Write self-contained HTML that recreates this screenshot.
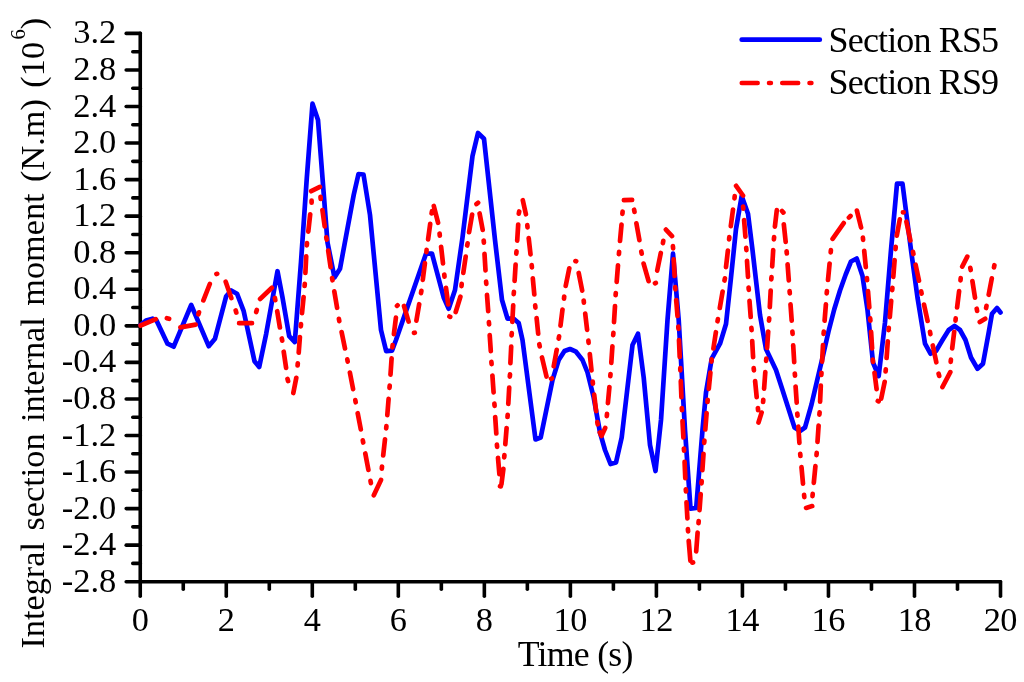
<!DOCTYPE html>
<html><head><meta charset="utf-8"><title>Integral section internal moment</title>
<style>
html,body{margin:0;padding:0;background:#fff;}
svg{display:block;}
text{font-family:"Liberation Serif",serif;fill:#000;}
</style></head><body>
<svg width="1024" height="682" viewBox="0 0 1024 682">
<rect width="1024" height="682" fill="#fff"/>

<g stroke="#000" stroke-width="3.6" stroke-linecap="round" fill="none">
<line x1="140.25" y1="33.4" x2="140.25" y2="581.7"/>
<line x1="140.25" y1="581.7" x2="1000.5" y2="581.7"/>
<line x1="126.2" y1="33.40" x2="140.25" y2="33.40"/>
<line x1="132.8" y1="51.68" x2="140.25" y2="51.68"/>
<line x1="126.2" y1="69.95" x2="140.25" y2="69.95"/>
<line x1="132.8" y1="88.23" x2="140.25" y2="88.23"/>
<line x1="126.2" y1="106.51" x2="140.25" y2="106.51"/>
<line x1="132.8" y1="124.78" x2="140.25" y2="124.78"/>
<line x1="126.2" y1="143.06" x2="140.25" y2="143.06"/>
<line x1="132.8" y1="161.34" x2="140.25" y2="161.34"/>
<line x1="126.2" y1="179.61" x2="140.25" y2="179.61"/>
<line x1="132.8" y1="197.89" x2="140.25" y2="197.89"/>
<line x1="126.2" y1="216.17" x2="140.25" y2="216.17"/>
<line x1="132.8" y1="234.44" x2="140.25" y2="234.44"/>
<line x1="126.2" y1="252.72" x2="140.25" y2="252.72"/>
<line x1="132.8" y1="271.00" x2="140.25" y2="271.00"/>
<line x1="126.2" y1="289.27" x2="140.25" y2="289.27"/>
<line x1="132.8" y1="307.55" x2="140.25" y2="307.55"/>
<line x1="126.2" y1="325.83" x2="140.25" y2="325.83"/>
<line x1="132.8" y1="344.10" x2="140.25" y2="344.10"/>
<line x1="126.2" y1="362.38" x2="140.25" y2="362.38"/>
<line x1="132.8" y1="380.66" x2="140.25" y2="380.66"/>
<line x1="126.2" y1="398.93" x2="140.25" y2="398.93"/>
<line x1="132.8" y1="417.21" x2="140.25" y2="417.21"/>
<line x1="126.2" y1="435.49" x2="140.25" y2="435.49"/>
<line x1="132.8" y1="453.76" x2="140.25" y2="453.76"/>
<line x1="126.2" y1="472.04" x2="140.25" y2="472.04"/>
<line x1="132.8" y1="490.32" x2="140.25" y2="490.32"/>
<line x1="126.2" y1="508.59" x2="140.25" y2="508.59"/>
<line x1="132.8" y1="526.87" x2="140.25" y2="526.87"/>
<line x1="126.2" y1="545.15" x2="140.25" y2="545.15"/>
<line x1="132.8" y1="563.42" x2="140.25" y2="563.42"/>
<line x1="126.2" y1="581.70" x2="140.25" y2="581.70"/>
<line x1="140.25" y1="581.7" x2="140.25" y2="596.2"/>
<line x1="183.26" y1="581.7" x2="183.26" y2="589.2"/>
<line x1="226.28" y1="581.7" x2="226.28" y2="596.2"/>
<line x1="269.29" y1="581.7" x2="269.29" y2="589.2"/>
<line x1="312.30" y1="581.7" x2="312.30" y2="596.2"/>
<line x1="355.31" y1="581.7" x2="355.31" y2="589.2"/>
<line x1="398.32" y1="581.7" x2="398.32" y2="596.2"/>
<line x1="441.34" y1="581.7" x2="441.34" y2="589.2"/>
<line x1="484.35" y1="581.7" x2="484.35" y2="596.2"/>
<line x1="527.36" y1="581.7" x2="527.36" y2="589.2"/>
<line x1="570.38" y1="581.7" x2="570.38" y2="596.2"/>
<line x1="613.39" y1="581.7" x2="613.39" y2="589.2"/>
<line x1="656.40" y1="581.7" x2="656.40" y2="596.2"/>
<line x1="699.41" y1="581.7" x2="699.41" y2="589.2"/>
<line x1="742.42" y1="581.7" x2="742.42" y2="596.2"/>
<line x1="785.44" y1="581.7" x2="785.44" y2="589.2"/>
<line x1="828.45" y1="581.7" x2="828.45" y2="596.2"/>
<line x1="871.46" y1="581.7" x2="871.46" y2="589.2"/>
<line x1="914.48" y1="581.7" x2="914.48" y2="596.2"/>
<line x1="957.49" y1="581.7" x2="957.49" y2="589.2"/>
<line x1="1000.50" y1="581.7" x2="1000.50" y2="596.2"/>
</g>
<g font-size="34.5" text-anchor="end">
<text x="116.3" y="43.4">3.2</text>
<text x="116.3" y="80.0">2.8</text>
<text x="116.3" y="116.5">2.4</text>
<text x="116.3" y="153.1">2.0</text>
<text x="116.3" y="189.6">1.6</text>
<text x="116.3" y="226.2">1.2</text>
<text x="116.3" y="262.7">0.8</text>
<text x="116.3" y="299.3">0.4</text>
<text x="116.3" y="335.8">0.0</text>
<text x="116.3" y="372.4">-0.4</text>
<text x="116.3" y="408.9">-0.8</text>
<text x="116.3" y="445.5">-1.2</text>
<text x="116.3" y="482.0">-1.6</text>
<text x="116.3" y="518.6">-2.0</text>
<text x="116.3" y="555.1">-2.4</text>
<text x="116.3" y="591.7">-2.8</text>
</g>
<g font-size="34.3" letter-spacing="-0.5" text-anchor="middle">
<text x="140.1" y="631.2">0</text>
<text x="226.1" y="631.2">2</text>
<text x="312.1" y="631.2">4</text>
<text x="398.1" y="631.2">6</text>
<text x="484.2" y="631.2">8</text>
<text x="570.2" y="631.2">10</text>
<text x="656.2" y="631.2">12</text>
<text x="742.2" y="631.2">14</text>
<text x="828.2" y="631.2">16</text>
<text x="914.3" y="631.2">18</text>
<text x="1000.3" y="631.2">20</text>
<text x="575.2" y="666" font-size="35.8" letter-spacing="-0.75">Time (s)</text>
</g>
<text font-size="34.3" word-spacing="2.85" text-anchor="start" transform="translate(44.4,648.6) rotate(-90)">Integral section internal moment (N.m) (10<tspan font-size="20.5" dx="2.5" dy="-19">6</tspan><tspan dy="19">)</tspan></text>
<polyline points="140.5,325.0 146.0,320.5 152.5,318.7 156.5,320.5 167.5,343.7 173.7,346.7 191.2,305.0 208.7,346.2 215.0,338.7 226.2,296.2 231.2,290.5 237.0,293.7 243.7,311.2 254.5,361.2 259.2,367.0 266.2,333.7 277.5,271.2 282.5,297.5 289.2,336.2 294.8,342.0 301.0,262.0 306.8,178.0 312.5,103.7 318.0,120.0 327.5,242.5 334.5,277.5 340.0,268.7 353.7,195.0 358.5,174.0 363.5,174.5 370.0,215.0 381.0,330.0 386.2,351.2 392.0,350.7 396.0,340.0 426.0,253.7 432.0,253.7 443.7,297.5 448.7,308.7 455.0,290.0 462.5,237.5 472.5,156.0 478.0,133.0 484.0,138.7 495.0,240.0 502.0,300.0 507.5,318.7 513.7,318.7 518.7,323.0 522.5,340.0 535.5,439.5 540.7,437.5 552.5,380.0 558.7,360.0 564.5,351.0 570.0,349.0 576.0,351.7 582.5,360.0 587.5,372.5 593.7,397.5 600.0,432.5 605.0,450.0 610.5,464.0 616.0,462.5 621.7,437.5 627.5,387.5 632.5,345.0 638.0,333.7 643.7,377.5 650.0,445.0 655.5,471.0 661.0,420.0 667.5,320.0 673.0,253.7 678.7,320.0 685.0,430.0 690.5,508.7 696.2,508.0 702.5,430.0 706.0,392.5 711.7,358.7 720.0,343.7 726.0,324.0 731.0,277.5 736.0,229.0 741.7,196.0 748.0,213.7 752.5,250.0 760.0,315.0 766.0,349.0 776.0,370.0 782.5,390.0 794.5,427.5 800.0,431.0 805.0,427.5 811.5,404.5 817.0,381.0 822.8,356.5 828.5,331.5 834.2,309.5 840.0,290.5 845.7,274.5 851.0,261.5 856.7,258.5 862.5,276.0 867.5,310.0 873.0,362.5 878.7,376.0 885.0,322.5 891.0,250.0 897.0,183.7 902.5,183.7 911.0,250.0 917.5,297.5 925.0,343.7 930.5,353.7 936.0,351.0 942.5,340.0 948.7,330.0 954.5,326.0 960.0,330.0 965.5,340.0 971.0,357.5 977.5,368.7 983.0,363.7 988.7,332.5 992.0,313.7 997.0,308.0 1000.5,312.5" fill="none" stroke="#00f" stroke-width="4.7" stroke-linejoin="round" stroke-linecap="round"/>
<path d="M140.6,325.5 L155.8,319.2M180.4,327.4 L195.7,324.6M203.4,300.4 L209.8,284.0M225.7,281.7 L231.3,298.1M239.1,323.2 L252.0,323.2M260.1,299.0 L271.9,287.8M277.2,311.2 L279.9,327.5M283.7,351.7 L286.1,367.9M293.3,393.0 L296.3,377.8M298.7,352.7 L299.9,337.0M302.0,313.2 L303.6,297.0M305.4,272.8 L306.2,256.4M308.3,231.6 L310.2,214.3M311.2,191.2 L319.9,186.9M322.4,210.0 L324.7,226.4M328.2,250.6 L330.6,267.1M334.3,291.4 L337.1,307.8M341.6,332.1 L345.0,348.4M349.9,372.6 L353.1,389.1M357.7,413.2 L360.8,429.4M365.3,453.5 L368.4,469.9M373.8,495.3 L381.0,480.0M383.2,455.5 L385.0,439.3M387.3,415.1 L388.6,398.9M390.5,374.7 L391.6,358.3M393.9,334.1 L395.9,317.7M404.0,306.0 L408.6,321.6M416.4,320.6 L419.2,304.2M422.8,279.8 L424.9,263.2M428.1,239.4 L430.2,223.9M433.8,206.0 L438.1,222.8M441.1,246.8 L443.0,263.4M446.0,287.9 L448.2,304.4M455.7,312.0 L460.4,296.7M463.3,272.9 L465.7,256.5M469.1,232.2 L472.1,214.6M479.6,213.5 L482.7,229.9M484.5,253.9 L485.5,270.4M487.0,294.8 L488.2,311.2M489.7,335.2 L490.8,351.1M492.4,375.5 L493.6,392.3M495.2,417.0 L496.3,433.5M498.0,457.8 L499.4,474.2M501.4,484.5 L503.4,468.9M505.3,444.2 L506.6,428.0M508.3,403.8 L509.2,387.6M510.4,363.2 L511.2,346.5M512.3,321.9 L513.2,305.3M514.6,280.9 L515.6,264.6M517.2,240.6 L518.2,224.5M522.8,200.2 L525.9,214.3M528.7,238.2 L530.5,254.3M532.8,278.3 L534.3,294.5M536.6,318.1 L538.2,333.7M542.0,357.5 L546.5,376.5M553.7,366.3 L556.7,349.8M560.5,325.6 L562.5,309.5M565.7,285.9 L569.3,268.3M578.7,273.0 L582.2,290.6M585.2,313.6 L587.1,329.8M589.8,354.0 L591.5,370.4M594.2,394.7 L596.1,411.1M599.8,432.5 L601.5,436.0 L605.2,427.9M607.9,403.1 L609.4,387.0M611.3,362.8 L612.4,346.3M614.0,322.1 L615.0,306.0M616.7,281.8 L618.0,265.3M620.0,241.0 L621.5,224.7M623.9,200.2 L632.1,199.8M636.4,223.3 L639.4,240.1M643.6,263.6 L648.6,281.2M657.2,270.6 L660.8,253.0M665.9,229.6 L672.0,236.1M673.7,259.4 L674.6,276.0M676.2,300.0 L677.5,316.0M679.0,340.2 L679.7,356.8M680.8,381.1 L681.4,397.2M682.5,421.2 L683.4,437.5M684.6,461.8 L685.3,478.2M686.5,502.3 L687.4,518.4M688.7,540.8 L690.4,560.8M696.2,551.4 L697.6,532.6M699.5,510.2 L700.7,494.1M702.4,470.1 L703.5,453.8M705.3,429.5 L706.6,413.1M708.8,388.8 L710.4,372.6M713.4,348.5 L715.9,332.2M719.8,308.0 L722.6,291.6M726.0,267.1 L727.9,250.6M730.8,226.1 L733.0,209.5M736.1,185.8 L743.0,195.5M744.1,220.0 L745.4,236.6M747.0,260.9 L748.0,276.9M749.5,300.8 L750.7,317.0M752.2,341.0 L753.1,357.2M755.1,381.1 L756.7,397.2M758.5,422.5 L761.6,412.6M764.1,388.6 L765.3,372.1M767.1,347.8 L768.2,331.5M769.8,307.2 L770.7,290.5M772.2,266.3 L773.2,250.2M774.9,226.6 L776.8,210.2M783.8,224.3 L785.7,241.9M787.6,264.3 L788.8,280.4M790.5,304.4 L791.7,320.7M793.2,345.3 L794.2,362.1M795.6,386.5 L796.7,402.7M798.3,426.6 L799.4,442.9M801.5,467.2 L803.0,483.7M806.1,507.9 L812.2,506.1M813.8,482.8 L815.4,466.2M817.5,441.9 L818.6,425.6M820.1,401.7 L820.8,385.7M822.1,361.6 L823.0,345.1M824.6,320.7 L825.9,304.4M828.0,280.0 L829.6,263.5M832.6,238.8 L843.7,223.1M856.9,210.6 L861.1,227.5M864.2,250.8 L865.8,267.1M868.0,291.2 L869.3,307.4M871.1,331.8 L872.1,348.4M874.5,372.8 L876.6,389.1M881.2,398.5 L884.7,381.8M886.6,358.0 L887.8,341.4M889.8,317.1 L891.2,300.9M893.3,276.8 L894.6,260.2M896.8,235.7 L899.8,219.3M906.4,221.7 L910.4,240.4M915.6,264.7 L919.0,280.7M924.0,304.6 L927.6,320.9M932.8,345.5 L936.3,362.3M942.4,387.1 L950.3,372.1M952.2,348.4 L954.2,331.8M957.1,307.5 L959.1,291.2M962.2,266.6 L967.3,256.6M972.4,281.1 L975.0,297.6M979.8,322.1 L985.2,318.8M988.7,294.8 L991.8,278.4M166.9,318.2 L169.1,318.8M198.4,314.3 L199.0,312.3M216.4,274.0 L217.2,273.8M235.7,310.4 L236.3,312.6M256.2,312.0 L256.8,310.0M274.9,298.0 L275.3,300.2M281.8,338.5 L282.2,340.7M287.5,378.9 L288.1,381.1M297.6,365.5 L297.8,363.3M300.8,326.4 L301.0,324.2M304.6,286.0 L304.8,283.8M306.8,245.4 L307.0,243.2M311.6,202.7 L311.6,200.5M320.5,196.8 L320.7,199.0M326.3,237.4 L326.7,239.6M332.1,278.1 L332.5,280.3M338.9,318.9 L339.3,321.1M347.3,359.4 L347.7,361.6M355.3,400.1 L355.7,402.3M362.8,440.3 L363.2,442.5M370.5,480.9 L370.9,483.1M381.8,468.7 L382.0,466.5M386.2,428.3 L386.4,426.1M389.5,387.9 L389.7,385.7M392.4,347.3 L392.6,345.1M397.0,305.9 L397.6,305.3M414.0,332.9 L414.8,332.7M421.0,293.1 L421.4,290.9M426.4,252.1 L426.6,249.9M431.6,213.4 L432.0,211.2M439.6,233.5 L439.8,235.7M444.3,274.5 L444.5,276.7M449.4,316.5 L450.2,316.9M461.5,286.1 L461.7,283.9M467.2,245.5 L467.6,243.3M476.5,204.1 L478.1,202.7M483.7,240.5 L483.9,242.7M486.1,281.6 L486.3,283.8M488.9,322.2 L489.1,324.4M491.4,361.9 L491.6,364.1M494.4,403.7 L494.6,405.9M496.9,444.6 L497.1,446.8M500.0,486.2 L500.8,486.4M504.2,457.4 L504.4,455.2M507.5,417.0 L507.7,414.8M509.8,376.6 L510.0,374.4M511.6,335.3 L511.8,333.1M513.7,294.1 L513.9,291.9M516.3,253.6 L516.5,251.4M518.8,213.7 L519.2,211.5M527.3,225.1 L527.5,227.3M531.7,265.2 L531.9,267.4M535.2,305.4 L535.4,307.6M539.3,344.2 L539.7,346.4M551.1,378.8 L551.9,378.4M558.7,338.6 L559.1,336.4M564.0,298.7 L564.2,296.5M575.4,261.1 L576.2,261.3M583.7,300.5 L583.9,302.7M588.4,340.7 L588.6,342.9M592.7,381.5 L592.9,383.7M597.3,422.1 L597.7,424.3M606.8,416.1 L607.0,413.9M610.3,376.2 L610.5,374.0M613.2,335.1 L613.4,332.9M615.6,295.2 L615.8,293.0M618.9,254.1 L619.1,251.9M622.4,213.8 L622.6,211.6M634.1,209.7 L634.5,211.9M641.3,251.5 L641.7,253.7M655.0,283.3 L655.8,282.9M662.9,243.1 L663.3,240.9M672.9,246.1 L673.1,248.3M675.2,287.1 L675.4,289.3M678.3,326.7 L678.5,328.9M680.3,368.1 L680.3,370.3M681.8,408.0 L682.0,410.2M683.9,448.5 L684.1,450.7M685.8,489.3 L686.0,491.5M687.9,529.2 L688.1,531.4M692.3,562.7 L693.1,562.5M698.5,523.2 L698.7,521.0M701.5,483.3 L701.7,481.1M704.2,442.8 L704.4,440.6M707.5,402.0 L707.7,399.8M711.5,361.6 L711.7,359.4M717.5,321.3 L717.9,319.1M724.5,280.5 L724.9,278.3M729.1,239.4 L729.3,237.2M734.5,198.4 L734.7,196.2M743.1,206.5 L743.3,208.7M746.2,247.9 L746.4,250.1M748.6,287.7 L748.8,289.9M751.4,327.9 L751.6,330.1M753.7,368.1 L753.9,370.3M757.9,408.0 L758.1,410.2M763.1,402.0 L763.3,399.8M766.1,360.9 L766.3,358.7M769.0,320.6 L769.2,318.4M771.3,279.3 L771.5,277.1M773.9,239.4 L774.1,237.2M782.0,211.0 L783.4,212.6M786.6,251.3 L786.8,253.5M789.6,291.2 L789.8,293.4M792.4,331.7 L792.6,333.9M794.8,373.5 L795.0,375.7M797.3,413.5 L797.5,415.7M800.2,453.8 L800.4,456.0M804.1,494.9 L804.3,497.1M812.5,496.1 L812.7,493.9M816.5,455.1 L816.7,452.9M819.4,414.6 L819.6,412.4M821.3,375.0 L821.5,372.8M823.6,333.9 L823.8,331.7M826.7,293.4 L826.9,291.2M830.7,252.3 L830.9,250.1M848.9,217.6 L850.5,216.0M862.9,237.7 L863.1,239.9M866.9,278.0 L867.1,280.2M870.2,318.4 L870.4,320.6M872.8,359.6 L873.0,361.8M877.8,401.0 L878.6,401.4M885.6,371.5 L885.8,369.3M888.6,330.1 L888.8,327.9M892.2,290.1 L892.4,287.9M895.5,249.1 L895.7,246.9M902.9,212.3 L903.7,212.3M913.0,251.8 L913.4,254.0M921.2,291.4 L921.6,293.6M930.0,331.9 L930.4,334.1M938.6,373.7 L939.2,375.9M950.7,361.8 L950.9,359.6M955.5,320.6 L955.7,318.4M960.5,280.3 L960.7,278.1M970.3,267.8 L970.7,270.0M976.7,308.7 L977.1,310.9M986.1,308.0 L986.5,305.8M994.0,267.4 L994.4,265.2" fill="none" stroke="#f00" stroke-width="4.7" stroke-linejoin="round" stroke-linecap="round"/>
<line x1="741.7" y1="39.7" x2="819.8" y2="39.7" stroke="#00f" stroke-width="4.7" stroke-linecap="round"/>
<line x1="741.7" y1="82.9" x2="820.5" y2="82.9" stroke="#f00" stroke-width="4.5" stroke-linecap="round" stroke-dasharray="16 11.25 2 11.25"/>
<text font-size="36" letter-spacing="-0.85" x="828.6" y="51.6">Section RS5</text>
<text font-size="36" letter-spacing="-0.85" x="828.6" y="94.1">Section RS9</text>
</svg></body></html>
